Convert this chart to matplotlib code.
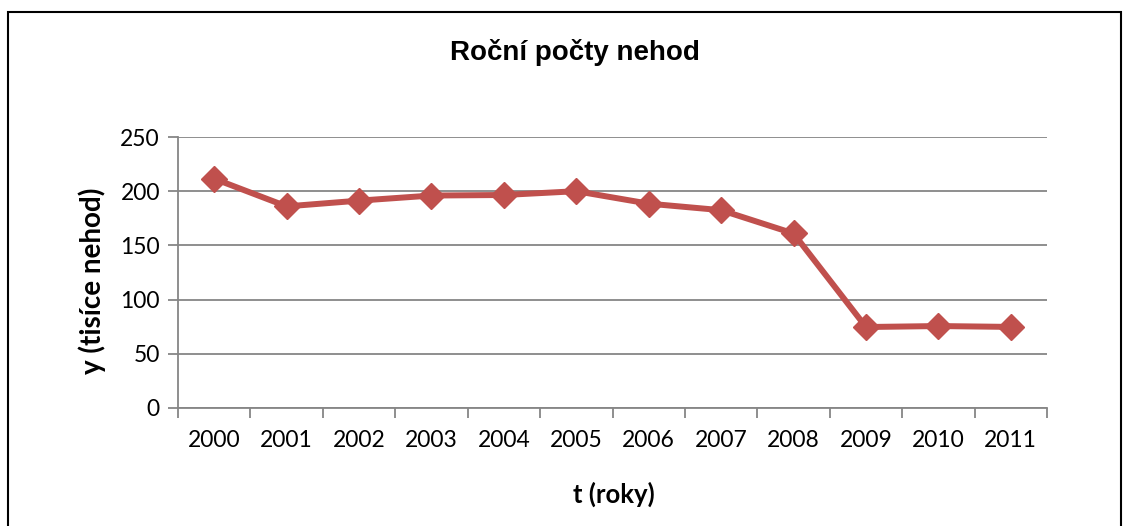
import matplotlib.pyplot as plt
from matplotlib.patches import Rectangle

# data
roky = ['2000', '2001', '2002', '2003', '2004', '2005',
        '2006', '2007', '2008', '2009', '2010', '2011']
nehody = [211.5, 186, 191.3, 196, 196.5, 200, 188.5, 182.5, 161, 74.7, 75.6, 74.8]
yticks = [0, 50, 100, 150, 200, 250]

plt.rcParams['font.family'] = ['Lato', 'DejaVu Sans']

fig = plt.figure(figsize=(11.29, 5.26), dpi=100)
W, H = 1129, 526
ax = fig.add_axes([178 / W, 1 - 408 / H, (1047 - 178) / W, (408 - 137) / H])

x = range(len(roky))
ax.plot(x, nehody, color='#C0504D', lw=4.3, marker='D', markersize=13,
        markeredgecolor='#C0504D', zorder=3)

ax.set_xlim(-0.5, len(roky) - 0.5)
ax.set_ylim(0, 250)
ax.set_yticks(yticks)
ax.set_xticks(x)
ax.set_xticklabels(roky)
ax.set_xticks([i - 0.5 for i in range(len(roky) + 1)], minor=True)
ax.tick_params(axis='x', which='major', length=0, labelsize=16.5, pad=16)
ax.tick_params(axis='x', which='minor', length=7, width=1.3, color='#868686')
ax.tick_params(axis='y', length=7, width=1.3, color='#868686', labelsize=16.5, pad=6)

ax.grid(axis='y', color='#868686', lw=1.3)
ax.set_axisbelow(True)
for s in ['top', 'right']:
    ax.spines[s].set_visible(False)
for s in ['left', 'bottom']:
    ax.spines[s].set_color('#868686')
    ax.spines[s].set_linewidth(1.3)

fig.text(575 / W, 1 - 53 / H, 'Roční počty nehod', fontsize=20, fontweight='bold',
         family=['Liberation Sans', 'DejaVu Sans'], ha='center', va='center')
fig.text(614 / W, 1 - 494 / H, 't (roky)', fontsize=18.5, fontweight='bold',
         ha='center', va='center')
fig.text(92 / W, 1 - 281 / H, 'y (tisíce nehod)', fontsize=20, fontweight='bold',
         rotation=90, ha='center', va='center')

# outer frame of the chart
fig.patches.append(Rectangle((8 / W, -0.01), (1121 - 8) / W, 1 - 12 / H + 0.01,
                             transform=fig.transFigure, fill=False,
                             edgecolor='black', lw=1.5))

fig.savefig('out.png', dpi=100)
